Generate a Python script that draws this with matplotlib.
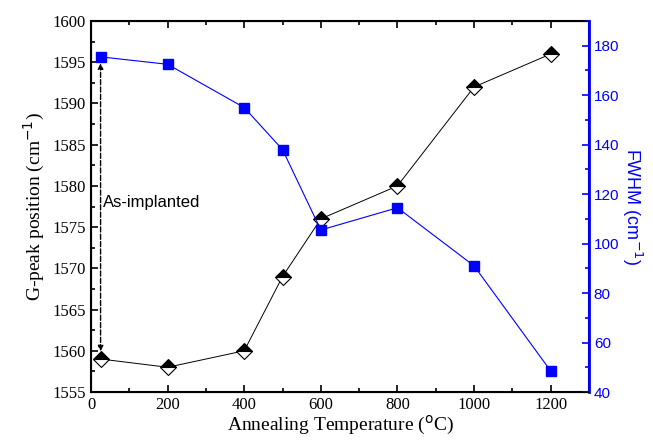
import matplotlib.pyplot as plt
from matplotlib.ticker import MultipleLocator

temp = [25, 200, 400, 500, 600, 800, 1000, 1200]
g_peak = [1559, 1558, 1560, 1569, 1576, 1580, 1592, 1596]
fwhm = [175.5, 172.5, 155, 138, 105.5, 114.5, 91, 48.5]

plt.rcParams['font.family'] = 'Liberation Serif'
fig = plt.figure(figsize=(6.53, 4.44), dpi=100)
ax = fig.add_axes([91/653, 1-392/444, (589-91)/653, (392-21)/444])

ax.plot(temp, g_peak, '-', color='black', lw=0.7, marker='D', ms=8,
        markerfacecolor='black', markerfacecoloralt='white', fillstyle='top',
        markeredgecolor='black', markeredgewidth=0.8, zorder=3)
ax.set_xlim(0, 1300)
ax.set_ylim(1555, 1600)
ax.xaxis.set_major_locator(MultipleLocator(200))
ax.xaxis.set_minor_locator(MultipleLocator(100))
ax.yaxis.set_major_locator(MultipleLocator(5))
ax.yaxis.set_minor_locator(MultipleLocator(2.5))
ax.tick_params(which='both', direction='in', top=True, labelsize=12, width=1.2)
ax.tick_params(which='major', length=5)
ax.tick_params(which='minor', length=3)
for s in ax.spines.values():
    s.set_linewidth(1.5)
ax.set_xlabel('Annealing Temperature ($^{\\mathrm{o}}$C)', fontsize=14, labelpad=1)
ax.set_ylabel('G-peak position (cm$^{-1}$)', fontsize=14)

ax.annotate('', xy=(25, 1559.6), xytext=(25, 1595.2),
            arrowprops=dict(arrowstyle='<|-|>', linestyle='--', color='black', lw=1,
                            mutation_scale=8))
ax.text(30, 1577.5, 'As-implanted', fontsize=12, family='Liberation Sans')

ax2 = ax.twinx()
ax2.plot(temp, fwhm, '-s', color='#0000ff', lw=0.8, ms=7)
ax2.set_ylim(40, 190)
ax2.yaxis.set_major_locator(MultipleLocator(20))
ax2.yaxis.set_minor_locator(MultipleLocator(10))
ax2.tick_params(which='both', direction='in', colors='#0000ff', labelsize=11, width=1.2)
ax2.tick_params(which='major', length=5)
ax2.tick_params(which='minor', length=3)
for lab in ax2.get_yticklabels():
    lab.set_family('Liberation Sans')
ax2.spines['right'].set_color('#0000ff')
ax2.spines['right'].set_linewidth(2)
ax2.set_ylabel('FWHM (cm$^{-1}$)', color='#0000ff', fontsize=13,
               family='Liberation Sans', rotation=270, labelpad=18)

fig.savefig('out.png', dpi=100)
